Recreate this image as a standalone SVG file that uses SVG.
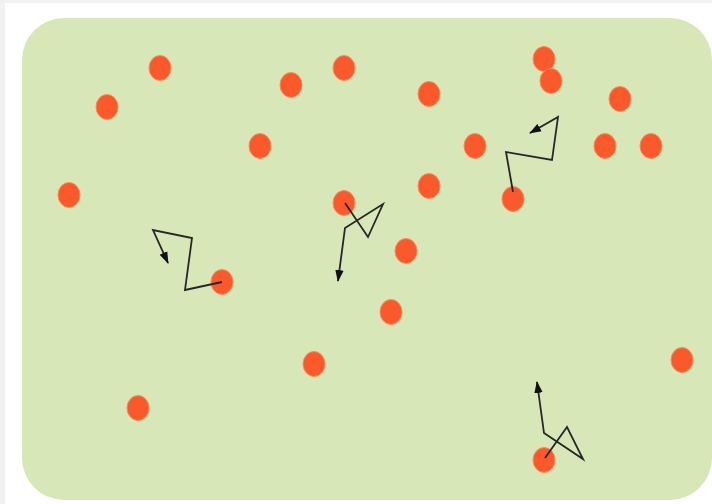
<svg xmlns="http://www.w3.org/2000/svg" width="712" height="504" viewBox="0 0 712 504">
<defs>
<style>
.dot{fill:#fa5a2b;stroke:#fb8a5a;stroke-width:1}
.trail{fill:none;stroke:#262626;stroke-width:1.8;stroke-linejoin:miter}
</style>
<marker id="ah" viewBox="0 0 12 10" refX="11" refY="5" markerWidth="12" markerHeight="10" markerUnits="userSpaceOnUse" orient="auto">
<path d="M0,0.8 L12,5 L0,9.2 Z" fill="#111"/>
</marker>
</defs>
<rect x="0" y="0" width="712" height="504" fill="#f1f1f1"/>
<rect x="5" y="3" width="707" height="501" fill="#ffffff"/>
<rect id="field" x="22" y="18" width="690" height="482" rx="42" ry="42" fill="#d8e7b8"/>
<g id="nodes">
<ellipse id="n1" class="dot" cx="160" cy="68" rx="11" ry="12.5"/>
<ellipse id="n2" class="dot" cx="107" cy="107" rx="11" ry="12.5"/>
<ellipse id="n3" class="dot" cx="291" cy="85" rx="11" ry="12.5"/>
<ellipse id="n4" class="dot" cx="344" cy="68" rx="11" ry="12.5"/>
<ellipse id="n5" class="dot" cx="429" cy="94" rx="11" ry="12.5"/>
<ellipse id="n6" class="dot" cx="544" cy="59" rx="11" ry="12.5"/>
<ellipse id="n7" class="dot" cx="551" cy="81" rx="11" ry="12.5"/>
<ellipse id="n8" class="dot" cx="620" cy="99" rx="11" ry="12.5"/>
<ellipse id="n9" class="dot" cx="260" cy="146" rx="11" ry="12.5"/>
<ellipse id="n10" class="dot" cx="475" cy="146" rx="11" ry="12.5"/>
<ellipse id="n11" class="dot" cx="605" cy="146" rx="11" ry="12.5"/>
<ellipse id="n12" class="dot" cx="651" cy="146" rx="11" ry="12.5"/>
<ellipse id="n13" class="dot" cx="69" cy="195" rx="11" ry="12.5"/>
<ellipse id="n14" class="dot" cx="344" cy="203" rx="11" ry="12.5"/>
<ellipse id="n15" class="dot" cx="429" cy="186" rx="11" ry="12.5"/>
<ellipse id="n16" class="dot" cx="513" cy="199" rx="11" ry="12.5"/>
<ellipse id="n17" class="dot" cx="406" cy="251" rx="11" ry="12.5"/>
<ellipse id="n18" class="dot" cx="222" cy="282" rx="11" ry="12.5"/>
<ellipse id="n19" class="dot" cx="391" cy="312" rx="11" ry="12.5"/>
<ellipse id="n20" class="dot" cx="314" cy="364" rx="11" ry="12.5"/>
<ellipse id="n21" class="dot" cx="682" cy="360" rx="11" ry="12.5"/>
<ellipse id="n22" class="dot" cx="138" cy="408" rx="11" ry="12.5"/>
<ellipse id="n23" class="dot" cx="544" cy="460" rx="11" ry="12.5"/>
</g>
<g id="connectors">
<polyline class="trail" points="222,282 185,290 192,238 153,230 168,263" marker-end="url(#ah)"/>
<polyline class="trail" points="345,203 368,237 383,204 345,228 338,281" marker-end="url(#ah)"/>
<polyline class="trail" points="513,192 506,152 552,160 558,117 530,133" marker-end="url(#ah)"/>
<polyline class="trail" points="545,458 567,427 583,459 544,433 537,382" marker-end="url(#ah)"/>
</g>
</svg>
